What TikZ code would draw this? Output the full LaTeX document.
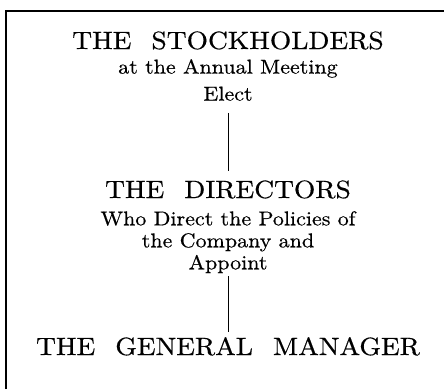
\documentclass[tikz,border=0pt]{standalone}
\usepackage{fontspec}
\setmainfont{lmroman10-regular.otf}[FakeStretch=1.1, FakeBold=0.5]
\usepackage{tikz}

\newcommand{\wgap}{\hspace{0.8em}}

\begin{document}
\begin{tikzpicture}[x=1pt, y=-1pt,
  title/.style={anchor=base, inner sep=0pt, font=\fontsize{25}{28}\selectfont},
  note/.style={anchor=north, inner sep=0pt, align=center, font=\fontsize{20}{22}\selectfont},
  link/.style={line width=0.8pt}]
\useasboundingbox (0,0) rectangle (446,389);
% frame
\draw[line width=1.8pt] (6,389) -- (6,11) -- (444,11);
% the three bodies
\node[title] (stock) at (228,49) {THE\wgap STOCKHOLDERS};
\node[note, font=\fontsize{20}{27}\selectfont] (stocknote) at (228,59) {at the Annual Meeting\\Elect};
\node[title] (dir) at (228,198) {THE\wgap DIRECTORS};
\node[note] (dirnote) at (228,211) {Who Direct the Policies of\\the Company and\\Appoint};
\node[title] (gm) at (228,355) {THE\wgap GENERAL\wgap MANAGER};
% who chooses whom
\draw[link, shorten <=12pt, shorten >=9pt] (stocknote.south) -- (dir.north);
\draw[link, shorten <=3pt, shorten >=5pt] (dirnote.south) -- (gm.north);
\end{tikzpicture}
\end{document}
